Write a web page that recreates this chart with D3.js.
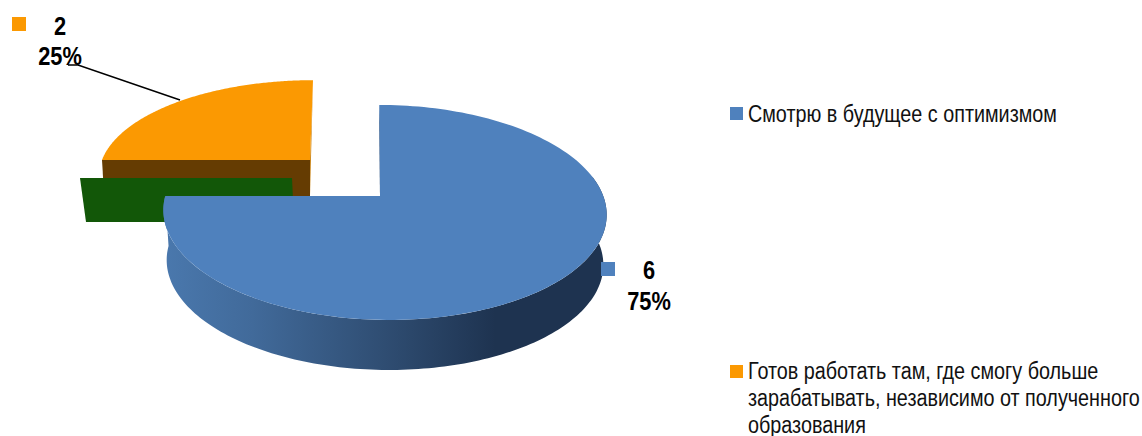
<!DOCTYPE html>
<html><head><meta charset="utf-8">
<script src="https://cdn.jsdelivr.net/npm/d3@7"></script>
<style>html,body{margin:0;padding:0;background:#fff}svg{display:block}</style>
</head><body><svg id="c" width="1142" height="436"></svg>
<script>
const categories = ["Смотрю в будущее с оптимизмом", "Готов работать там, где смогу больше зарабатывать, независимо от полученного образования"];
const legendLines = [["Смотрю в будущее с оптимизмом"], ["Готов работать там, где смогу больше", "зарабатывать, независимо от полученного", "образования"]];
const values = [6, 2];
const percentLabels = ["75%", "25%"];
const colors = ["#4f81bd", "#fb9902"];

const svg = d3.select("#c");
const FONT = "'Liberation Sans',Arial,sans-serif";
const slices = d3.pie().sort(null).value(d => d)(values);

// perspective projection of the tilted pie plane
function projector(cx, cy, rx, ry, p, skew, skew0) {
  const x = d3.scaleLinear().domain([-1, 1]).range([-rx, rx]);
  const y = d3.scaleLinear().domain([-1, 1]).range([-ry, ry]);
  return (u, v, dy = 0, shrink = 1) => {
    const s = 1 / (1 - p * v);
    return [cx + skew0 + skew * v + x(u) * s * shrink, cy + y(v) * s + dy];
  };
}
const onCircle = (proj, a, dy, shrink) => proj(Math.sin(a), -Math.cos(a), dy, shrink);
const samples = (a0, a1, n = 160) => d3.range(n + 1).map(i => a0 + (a1 - a0) * i / n);
const line = d3.line();

const blue = slices[0], orange = slices[1];
const pBlue = projector(380, 196, 219, 105, 0.153, 5, 4.25);
const pOrange = projector(310, 160, 208, 92, 0.153, -3, 0);

const defs = svg.append("defs");
const grad = defs.append("linearGradient").attr("id", "side")
  .attr("gradientUnits", "userSpaceOnUse").attr("x1", 164).attr("x2", 606).attr("y1", 0).attr("y2", 0);
[[0, "#4a78ad"], [0.2, "#416a9a"], [0.5, "#2f4d72"], [0.75, "#1e3350"], [1, "#1e3350"]]
  .forEach(([o, c]) => grad.append("stop").attr("offset", o).attr("stop-color", c));

// orange wedge: rear wall, front wall, top
const oTop = pOrange(0, -1), oApex = [310, 160], oLeft = pOrange(-1, 0);
svg.append("path").attr("fill", "#c98212")
  .attr("d", line([oTop, [oTop[0] - 3, oApex[1] + 36], oApex, oTop]) + "Z");
svg.append("path").attr("fill", "#653c02")
  .attr("d", line([oLeft, oApex, [oApex[0], oApex[1] + 50], [oLeft[0] + 3, oLeft[1] + 50]]) + "Z");
svg.append("path").attr("fill", colors[1])
  .attr("d", line([oApex, ...samples(orange.startAngle, orange.endAngle).map(a => onCircle(pOrange, a))]) + "Z");

// green wall behind the blue wedge
svg.append("path").attr("fill", "#125708")
  .attr("d", line([[80, 178], [292, 178], [294, 222], [86, 222]]) + "Z");

// blue wedge: thin inner wall, side wall, top
const bTop = pBlue(0, -1), bApex = [380, 196];
svg.append("path").attr("fill", "#1e3350")
  .attr("d", line([bTop, [bApex[0] + 3, bApex[1]], bApex]) + "Z");
const sideAngles = samples(Math.PI * 0.44, blue.endAngle);
svg.append("path").attr("fill", "url(#side)")
  .attr("d", line([
    ...sideAngles.map(a => onCircle(pBlue, a)),
    ...sideAngles.slice().reverse().map(a => onCircle(pBlue, a, 50, 0.985))
  ]) + "Z");
svg.append("path").attr("fill", colors[0])
  .attr("d", line([bApex, ...samples(blue.startAngle, blue.endAngle).map(a => onCircle(pBlue, a))]) + "Z");

// leader line
svg.append("polyline").attr("points", "68,65 78,65 180,100")
  .attr("fill", "none").attr("stroke", "#000").attr("stroke-width", 1.5);

// data labels, horizontally condensed
const labelPos = [{x: 649, y1: 279, y2: 310, sx: 601, sy: 262}, {x: 60, y1: 35, y2: 65, sx: 12, sy: 17}];
values.forEach((v, i) => {
  const pos = labelPos[i];
  [[pos.y1, v], [pos.y2, percentLabels[i]]].forEach(([yy, t]) => {
    svg.append("text").attr("transform", `translate(${pos.x},${yy}) scale(0.84,1)`)
      .attr("font-family", FONT).attr("font-weight", "bold").attr("font-size", 26)
      .attr("text-anchor", "middle").attr("fill", "#000").text(t);
  });
  svg.append("rect").attr("x", pos.sx).attr("y", pos.sy).attr("width", 14).attr("height", 14).attr("fill", colors[i]);
});

// legend, horizontally condensed
const legendTextY = [122, 379];
const legendBoxY = [107, 365];
legendLines.forEach((lines, i) => {
  svg.append("rect").attr("x", 730).attr("y", legendBoxY[i]).attr("width", 13).attr("height", 13).attr("fill", colors[i]);
  lines.forEach((t, j) => {
    svg.append("text").attr("transform", `translate(748,${legendTextY[i] + j * 27}) scale(0.86,1)`)
      .attr("font-family", FONT).attr("font-size", 23).attr("fill", "#111").text(t);
  });
});
</script></body></html>
